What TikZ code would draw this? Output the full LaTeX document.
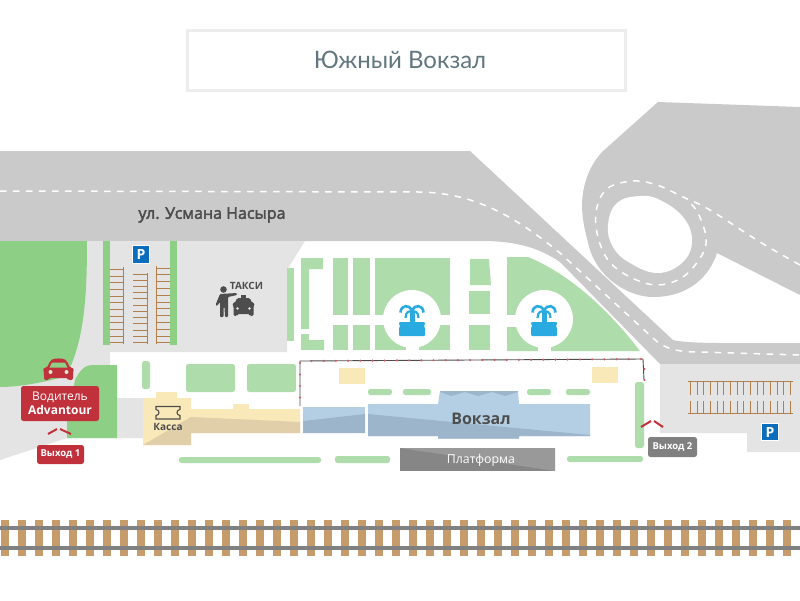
\documentclass[tikz,border=0pt]{standalone}
\usepackage{fontspec}
\setmainfont{Open Sans}
\newfontfamily\titlefont{Lato}
\newfontfamily\mediumfont[FakeBold=2.5]{Open Sans}
\definecolor{roadgray}{HTML}{CACACA}
\definecolor{lightgray}{HTML}{E4E4E4}
\definecolor{darkgreen}{HTML}{8CCF85}
\definecolor{palegreen}{HTML}{AEDCAB}
\definecolor{hatchbrown}{HTML}{B07F4B}
\definecolor{tiebrown}{HTML}{C69C6D}
\definecolor{railgray}{HTML}{808080}
\definecolor{sandlight}{HTML}{F9E8B8}
\definecolor{sanddark}{HTML}{E0CFA9}
\definecolor{bluelight}{HTML}{B4CFE4}
\definecolor{bluedark}{HTML}{9DB5CA}
\definecolor{markred}{HTML}{C0313B}
\definecolor{iconblue}{HTML}{29ABE2}
\definecolor{parkblue}{HTML}{0A6EBD}
\definecolor{textgray}{HTML}{4D4D4D}
\definecolor{titleslate}{HTML}{627680}
\tikzset{
  pill/.style={fill=palegreen,rounded corners=2.5pt},
  garden/.style={fill=palegreen},
  hatch/.style={draw=hatchbrown,line width=0.9pt},
  roadmark/.style={draw=white,line width=1.5pt,dash pattern=on 6.5pt off 6.5pt},
  exitmark/.style={draw=markred,line width=2pt},
  tagred/.style={fill=markred,rounded corners=2.5pt,text=white,inner sep=0pt,font=\bfseries\fontsize{9.5}{10}\selectfont},
  taggray/.style={fill=railgray,rounded corners=2.5pt,text=white,inner sep=0pt,font=\bfseries\fontsize{9.5}{10}\selectfont},
  label/.style={text=textgray,inner sep=0pt,font=\bfseries\fontsize{10}{11}\selectfont},
  parksign/.style={fill=parkblue,draw=white,line width=1pt,minimum size=17.5pt,inner sep=0pt,text=white,font=\bfseries\fontsize{14}{14}\selectfont},
}
\begin{document}
\begin{tikzpicture}[x=1pt,y=-1pt]
\useasboundingbox (0,0) rectangle (800,600);
\fill[white] (0,0) rectangle (800,600);

\draw[draw=black!7,line width=3pt,fill=white] (187.5,30.5) rectangle (625.5,90.5);
\node[text=titleslate,inner sep=0pt,font=\titlefont\fontsize{24}{25}\selectfont] (title) at (400,60) {Южный Вокзал};

% roads
\fill[roadgray] (0,151) -- (470,151) -- (673,340) .. controls (680,342) and (700,343) .. (720,343) -- (800,343) -- (800,364) -- (660,364) -- (560,262) .. controls (535,245) and (510,241) .. (480,241) -- (0,241) -- cycle;
\fill[roadgray] (658,102) -- (800,107) -- (800,295) -- (717,253) .. controls (710,275) and (690,297) .. (653,297) .. controls (630,297) and (600,280) .. (590,250) .. controls (583,225) and (582,215) .. (582,203) .. controls (583,180) and (592,163) .. (602,152) -- cycle;
\fill[white] plot[smooth cycle,tension=0.7] coordinates {(640,196) (660,200) (683,217) (692,240) (683,262) (658,273) (630,263) (613,247) (608,225) (617,203)};
\draw[roadmark] (0,191) -- (420,192) .. controls (470,193) and (510,212) .. (560,253) -- (653,338) .. controls (665,350) and (680,352) .. (700,352) -- (800,355);
\draw[roadmark] plot[smooth,tension=0.6] coordinates {(800,265) (760,242) (710,210) (683,197) (657,185) (633,181) (608,188) (597,207) (597,233) (608,260) (630,277) (657,285) (683,277) (702,255) (706,237) (698,213) (690,203)};

% ground
\fill[lightgray] (87,241) -- (305,241) -- (287,270) -- (287,352) -- (110,352) -- (110,398) -- (143,398) -- (143,438) -- (67,438) -- (0,460) -- (0,380) -- cycle;
\fill[lightgray] (660,364) -- (800,364) -- (800,452) -- (747,452) -- (747,433) -- (660,433) -- cycle;
\fill[darkgreen] (0,241) -- (87,241) .. controls (87,290) and (85,330) .. (72,363) .. controls (68,372) and (65,376) .. (63,377) .. controls (45,382) and (20,387) .. (0,387) -- cycle;
\fill[darkgreen] (67,438) -- (117,438) -- (117,365) -- (92,365) .. controls (85,365) and (80,370) .. (75,380) -- (67,420) -- cycle;

% parking left
\fill[darkgreen] (103,241) rectangle (110,345);
\fill[darkgreen] (170,241) rectangle (177,345);
\draw[hatch] (123,267) -- (123,344);
\draw[hatch] (147,273) -- (147,344);
\draw[hatch] (156,266) -- (156,344);
\foreach \row in {0,...,11} {
  \draw[hatch] (110,269.3+6.67*\row) -- (123,269.3+6.67*\row);
  \draw[hatch] (133,274+6.22*\row) -- (147,274+6.22*\row);
  \draw[hatch] (156,268+6.8*\row) -- (170,268+6.8*\row);
}
\node[parksign] (parkA) at (141,254.5) {P};

% parking right
\draw[hatch] (688,381) -- (793,381);
\draw[hatch] (688,413) -- (793,413);
\foreach \col in {0,...,15} {
  \draw[hatch,line width=1.1pt] (690.5+6.67*\col,381) -- (690.5+6.67*\col,395);
  \draw[hatch,line width=1.1pt] (690.5+6.67*\col,401) -- (690.5+6.67*\col,413);
}
\node[parksign] (parkB) at (770,432) {P};

% gardens
\fill[garden] (287,268) rectangle (294,341);
\fill[garden] (301,258) -- (323,258) -- (323,269) -- (309,269) -- (309,329) -- (301,329) -- cycle;
\fill[garden] (301,334) -- (309,334) -- (309,340) -- (324,340) -- (324,350) -- (301,350) -- cycle;
\fill[garden] (333,258) rectangle (348,315);
\fill[garden] (353,258) rectangle (370,315);
\fill[garden] (333,325) rectangle (348,350);
\fill[garden] (353,325) rectangle (370,350);
\fill[garden] (375,258) rectangle (450,315);
\fill[garden] (375,325) rectangle (450,350);
\fill[garden] (470,259) -- (489,259) -- (491,285) -- (470,285) -- cycle;
\fill[garden] (469,291) rectangle (490,314);
\fill[garden] (469,325) rectangle (490,350);
\fill[garden] (507,257) -- (528,257) .. controls (565,272) and (605,305) .. (640,351) -- (507,351) -- cycle;
\fill[white] (507,315) rectangle (525,327);
\fill[white] (412,319) circle [radius=29];
\fill[white] (544,319) circle [radius=29];
\fill[white] (405.5,340) rectangle (418.5,352);
\fill[white] (537.5,340) rectangle (550.5,352);
\foreach \cx in {412,544} {
  \fill[iconblue] (\cx-2.5,312) rectangle (\cx+2.5,323);
  \fill[iconblue,rounded corners=1pt] (\cx-13,322) -- (\cx+13,322) -- (\cx+13,325) -- (\cx+11.5,325) -- (\cx+13,328) -- (\cx+13,336) -- (\cx-13,336) -- (\cx-13,328) -- (\cx-11.5,325) -- (\cx-13,325) -- cycle;
  \draw[iconblue,line width=2.6pt] (\cx-11.5,312.5) .. controls (\cx-11,304.5) and (\cx-3,304.5) .. (\cx,310) .. controls (\cx+3,304.5) and (\cx+11,304.5) .. (\cx+11.5,312.5);
  \draw[iconblue,line width=2.2pt] (\cx-6.5,318) .. controls (\cx-6.5,311.5) and (\cx-2,310) .. (\cx,312.5) .. controls (\cx+2,310) and (\cx+6.5,311.5) .. (\cx+6.5,318);
}

% small greens
\fill[pill] (142,361) rectangle (150,389);
\fill[pill] (186,364) rectangle (235,392);
\fill[pill] (247,364) rectangle (296,392);
\fill[pill] (368,389) rectangle (392,395);
\fill[pill] (403,389) rectangle (431,395);
\fill[pill] (527,389) rectangle (551,395);
\fill[pill] (566,389) rectangle (590,395);
\fill[pill] (635,382) rectangle (644,448);
\fill[pill] (179,457) rectangle (321,463);
\fill[pill] (335,456) rectangle (390,463);
\fill[pill] (567,456) rectangle (643,462);
\fill[sandlight] (339,368) rectangle (365,384);
\fill[sandlight] (592,367) rectangle (618,383);

% fence
\draw[draw=textgray,line width=0.9pt] (300,406) -- (300,361) -- (643,359) -- (644,380);
\foreach \dot in {0,...,27} {
  \fill[markred!80] (311.5+12.2*\dot,361-0.0058*12.2*\dot) circle [radius=1.2];
}
\foreach \dot in {0,...,3} {
  \fill[markred!80] (300,363+11.5*\dot) circle [radius=1.2];
}
\fill[markred!80] (644.5,369) circle [radius=1.2];
\fill[markred!80] (644.5,380) circle [radius=1.2];

% kassa
\fill[sandlight] (143,398) -- (156,398) -- (156,392) -- (177,392) -- (177,398) -- (191,398) -- (191,409) -- (233,409) -- (233,404) -- (249,404) -- (249,409) -- (300,409) -- (300,433) -- (191,433) -- (191,445) -- (143,445) -- cycle;
\fill[sanddark] (143,445) -- (191,417) -- (300,422) -- (300,433) -- (191,433) -- (191,445) -- cycle;
\draw[draw=textgray,line width=1.1pt] (156,406.5) -- (180,406.5) -- (180,409.5) .. controls (176,410) and (176,415) .. (180,415.5) -- (180,419) -- (156,419) -- (156,415.5) .. controls (160,415) and (160,410) .. (156,409.5) -- cycle;
\node[label] (kassa) at (168,427) {Касса};

% station
\fill[bluelight] (303,407) rectangle (365,433);
\fill[bluedark] (303,421) -- (365,414) -- (365,433) -- (303,433) -- cycle;
\fill[bluelight] (440,391) -- (518,391) -- (519,404) -- (590,404) -- (590,436) -- (519,436) -- (519,438.5) -- (438,438.5) -- (438,436) -- (368,436) -- (368,404) -- (438,404) -- cycle;
\fill[bluedark] (368,414) -- (590,435) -- (590,436) -- (519,436) -- (519,438.5) -- (438,438.5) -- (438,436) -- (368,436) -- cycle;
\fill[bluedark] (440,391) -- (518,391) -- (518,392) -- (505,396) -- (492,392) -- (478,396) -- (465,392) -- (451,396) -- (440,392) -- cycle;
\node[text=textgray,inner sep=0pt,font=\bfseries\fontsize{16}{17}\selectfont] (vokzal) at (481,418.5) {Вокзал};

% platform
\fill[railgray!95] (400,448) rectangle (555,471);
\fill[black!40] (400,448) -- (555,448) -- (555,471) -- cycle;
\node[text=white,inner sep=0pt,font=\fontsize{12.3}{13}\selectfont] (platform) at (481,460) {Платформа};

% road label and taxi
\node[text=textgray,inner sep=0pt,font=\mediumfont\fontsize{16}{17}\selectfont] (street) at (212,215) {ул. Усмана Насыра};
\node[label] (taxi) at (246.5,286) {ТАКСИ};
\fill[textgray] (223.5,289.5) circle [radius=3.3];
\fill[textgray,rounded corners=1pt] (220,294) -- (237,293) -- (237,295) -- (228,297) -- (228,317) -- (225,317) -- (224.5,307) -- (223.5,307) -- (223.5,317) -- (220,317) -- (220,302) -- (217,306) -- (215.5,305) -- cycle;
\fill[textgray,rounded corners=1.5pt] (232,303) -- (235,303) -- (237,298) -- (250,298) -- (252,303) -- (255,303) -- (253.5,306) -- (253.5,316) -- (250,316) -- (250,314) -- (237,314) -- (237,316) -- (233.5,316) -- (233.5,306) -- cycle;
\fill[textgray] (241,295) rectangle (246,298);
\fill[lightgray] (237.5,308.5) circle [radius=1.4];
\fill[lightgray] (249.5,308.5) circle [radius=1.4];

% driver
\fill[markred,rounded corners=2pt] (43,368) -- (47,368) -- (50,361) .. controls (54,358) and (63,358) .. (67,361) -- (70,368) -- (74,368) -- (73,373) -- (73,380) -- (68,380) -- (68,378) -- (49,378) -- (49,380) -- (44,380) -- (44,373) -- cycle;
\fill[darkgreen] (52,362.5) -- (65,362.5) -- (67.5,367.5) -- (49.5,367.5) -- cycle;
\fill[darkgreen!40] (50.5,372) circle [radius=2];
\fill[darkgreen!40] (66.5,372) circle [radius=2];
\fill[markred,rounded corners=2.5pt] (21,386) rectangle (99,421);
\node[text=white,inner sep=0pt,font=\fontsize{12}{13}\selectfont] (driver) at (60,397) {Водитель};
\node[text=white,inner sep=0pt,font=\bfseries\fontsize{12}{13}\selectfont] (advantour) at (60,410) {Advantour};
\coordinate (exitAa) at (48,434);
\coordinate (exitAb) at (57,429);
\coordinate (exitAc) at (60,429);
\coordinate (exitAd) at (71,434);
\draw[exitmark] (exitAa) -- (exitAb);
\draw[exitmark] (exitAc) -- (exitAd);
\node[tagred,minimum width=47pt,minimum height=19pt] (exitA) at (60.5,454.5) {Выход 1};

\coordinate (exitBa) at (641,427);
\coordinate (exitBb) at (651,421);
\coordinate (exitBc) at (654,421);
\coordinate (exitBd) at (663,427);
\draw[exitmark] (exitBa) -- (exitBb);
\draw[exitmark] (exitBc) -- (exitBd);
\node[taggray,minimum width=49pt,minimum height=20pt] (exitB) at (672.5,447) {Выход 2};

% railway
\foreach \tie in {0,...,46} {
  \fill[tiebrown] (1+17*\tie,520) rectangle (9+17*\tie,556);
}
\fill[railgray] (0,526) rectangle (800,530);
\fill[railgray] (0,546) rectangle (800,550);
\end{tikzpicture}
\end{document}
